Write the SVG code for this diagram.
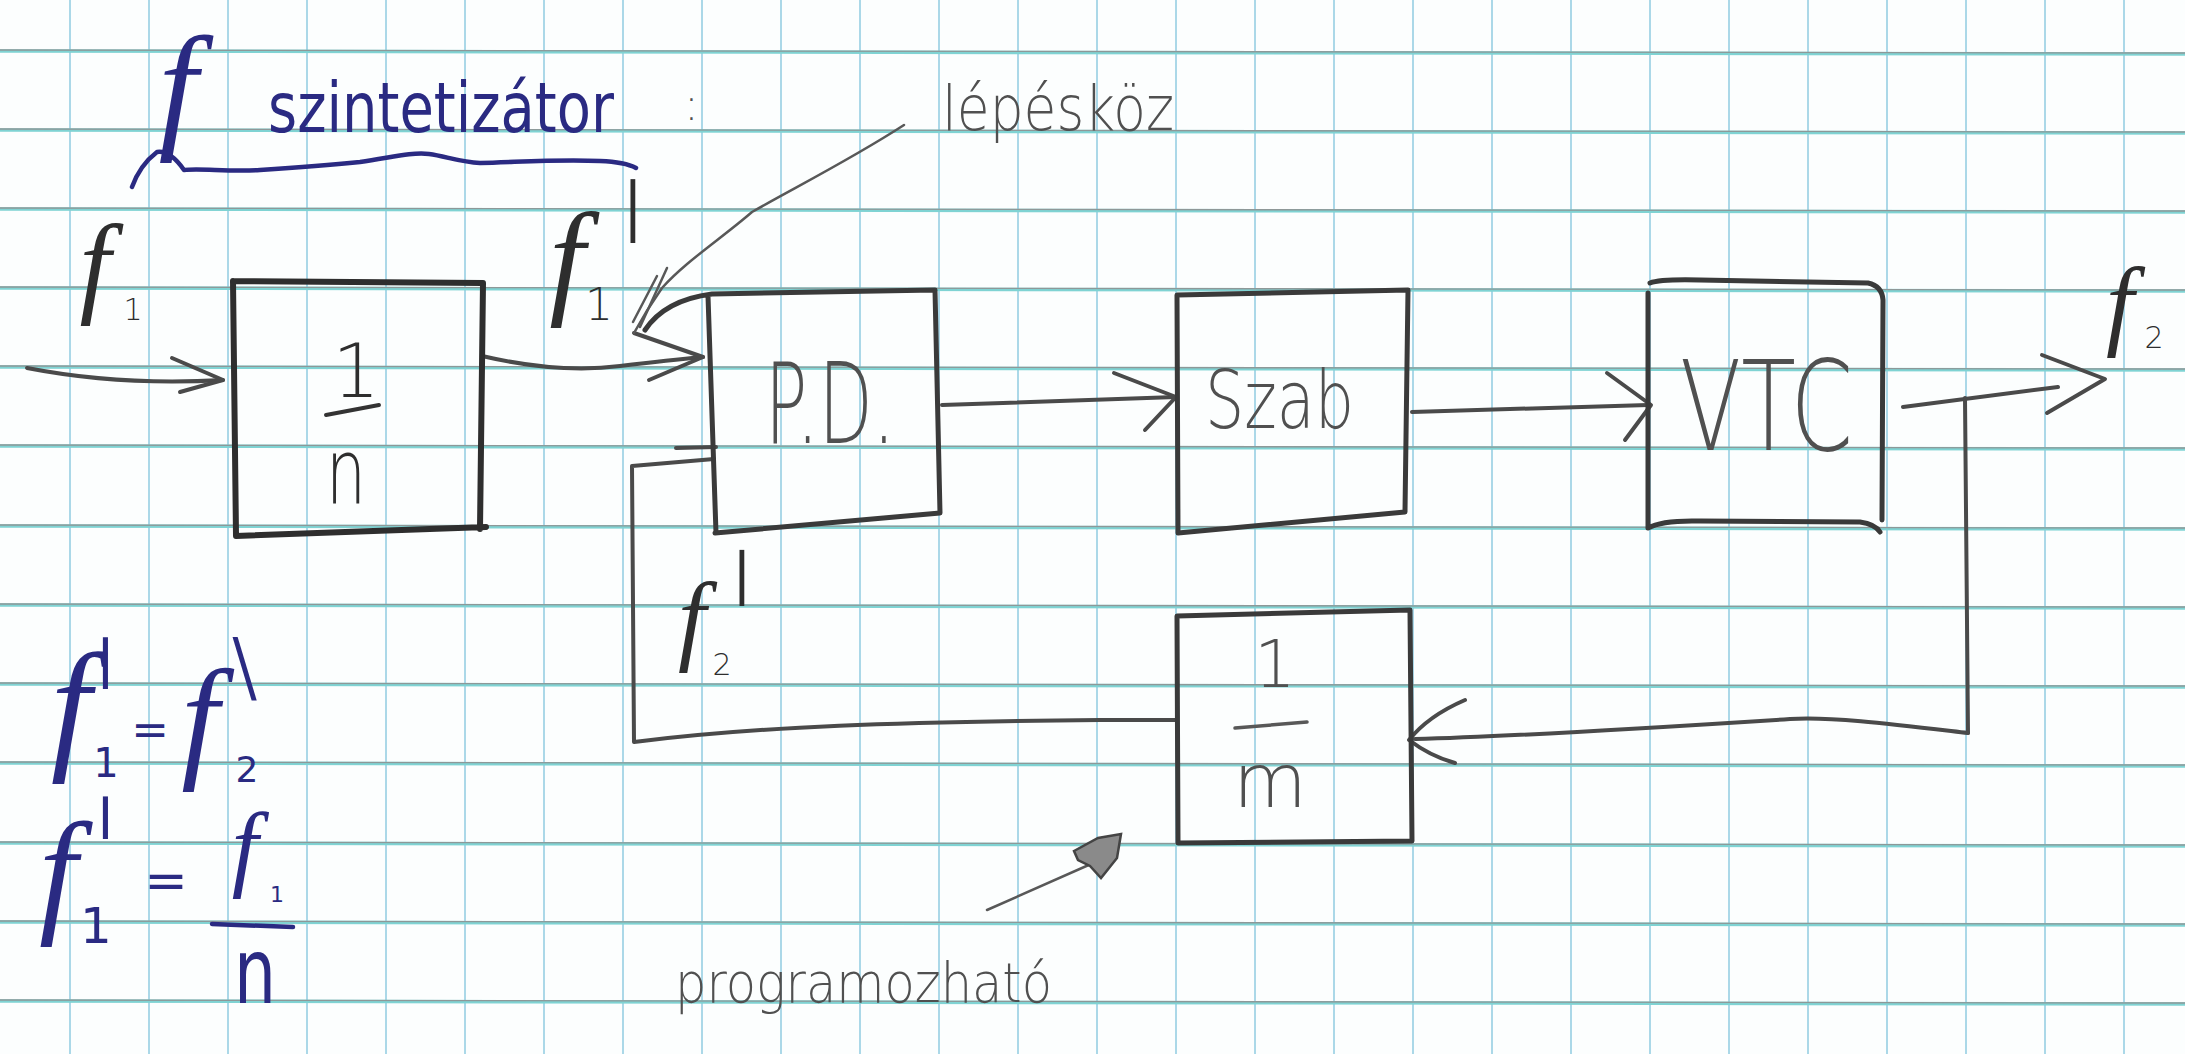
<svg xmlns="http://www.w3.org/2000/svg" width="2185" height="1054" viewBox="0 0 2185 1054">
<defs>
<style>
.gv{stroke:#abd8e8;stroke-width:2}
.gh{stroke:#7fd3d3;stroke-width:3.5}
.gh2{stroke:#8e9898;stroke-width:1.3}
.box{fill:none;stroke:#3a3a3a;stroke-width:5;stroke-linecap:round;stroke-linejoin:round}
.wire{fill:none;stroke:#4a4a4a;stroke-width:4;stroke-linecap:round;stroke-linejoin:round}
.thin{fill:none;stroke:#585858;stroke-width:2.5;stroke-linecap:round;stroke-linejoin:round}
.inkline{fill:none;stroke:#2a2a82;stroke-width:4.5;stroke-linecap:round;stroke-linejoin:round}
.hand{font-family:"DejaVu Sans","Liberation Sans",sans-serif;font-weight:200;fill:#505050}
.dark{font-family:"DejaVu Sans","Liberation Sans",sans-serif;font-weight:200;fill:#2e2e2e}
.ink{font-family:"DejaVu Sans","Liberation Sans",sans-serif;font-weight:normal;fill:#2a2a82}
.f{font-family:"Liberation Serif","DejaVu Serif",serif;font-style:italic;font-weight:normal}
.mid{text-anchor:middle}
</style>
</defs>
<rect width="2185" height="1054" fill="#fcfefe"/>
<g id="grid">
<path class="gv" d="M70,0V1054M149,0V1054M228,0V1054M307,0V1054M386,0V1054M465,0V1054M544,0V1054M623,0V1054M702,0V1054M781,0V1054M860,0V1054M939,0V1054M1018,0V1054M1097,0V1054M1176,0V1054M1255,0V1054M1334,0V1054M1413,0V1054M1492,0V1054M1571,0V1054M1650,0V1054M1729,0V1054M1808,0V1054M1887,0V1054M1966,0V1054M2045,0V1054M2124,0V1054"/>
<path class="gh" d="M0,51L2185,54M0,130L2185,133M0,209L2185,212M0,288L2185,291M0,367L2185,370M0,446L2185,449M0,526L2185,529M0,605L2185,608M0,684L2185,687M0,763L2185,766M0,843L2185,846M0,922L2185,925M0,1001L2185,1004"/>
<path class="gh2" d="M0,50L2185,53M0,129L2185,132M0,208L2185,211M0,287L2185,290M0,366L2185,369M0,445L2185,448M0,525L2185,528M0,604L2185,607M0,683L2185,686M0,762L2185,765M0,842L2185,845M0,921L2185,924M0,1000L2185,1003"/>
</g>
<g id="title">
<text class="ink f mid" x="178" y="133" font-size="140">f</text>
<text class="ink" x="268" y="132" font-size="70" textLength="346" lengthAdjust="spacingAndGlyphs">szintetizátor</text>
<path class="inkline" d="M132,187 Q140,165 157,152 Q170,150 184,170 C200,168 230,172 260,170 C290,168 330,165 360,162 C390,158 410,152 429,154 C445,156 460,162 480,163 C520,162 560,159 600,161 Q625,162 636,168"/>
<text class="hand" x="684" y="120" font-size="44">:</text>
</g>
<g id="connectors">
<path class="wire" d="M27,368 Q120,386 223,380"/>
<path class="wire" d="M172,358 L223,380 L180,392"/>
<path class="wire" d="M482,356 Q560,374 620,366 Q670,360 703,357"/>
<path class="wire" d="M634,333 L703,357 L649,380"/>
<path class="wire" d="M942,405 L1176,397"/>
<path class="wire" d="M1114,373 L1176,397 L1145,430"/>
<path class="wire" d="M1412,412 L1648,405"/>
<path class="wire" d="M1607,373 L1651,405 L1625,440"/>
<path class="wire" d="M1903,407 L2058,387"/>
<path class="wire" d="M2042,355 L2105,379 L2047,413"/>
<path class="wire" d="M1965,398 L1968,733"/>
<path class="wire" d="M1968,733 C1900,725 1830,716 1790,719 C1650,728 1500,737 1415,739"/>
<path class="wire" d="M1465,700 Q1428,716 1409,740 Q1430,756 1455,763"/>
<path class="wire" d="M1177,720 L1100,720 C900,722 760,726 634,742 L632,466 L714,459"/>
<path class="wire" d="M676,448 L716,447"/>
<path class="thin" d="M904,125 C850,160 790,190 752,212 C722,238 685,262 662,288 C648,308 640,322 634,333"/>
<path class="thin" d="M667,268 L640,327 M657,276 L633,322"/>
<path class="thin" d="M987,910 L1100,860"/>
<path d="M1074,851 L1098,838 L1121,834 L1117,858 L1101,878 L1090,866 L1078,860 Z" fill="#8a8a8a" stroke="#444" stroke-width="2.5"/>
</g>
<g id="node-div-n">
<path class="box" style="stroke-width:6;stroke:#2e2e2e" d="M233,281 L483,283 L480,529 M486,527 L236,536 L233,281"/>
<text class="dark mid" x="356" y="397" font-size="75">1</text>
<path class="wire" style="stroke:#333" d="M326,415 L379,405"/>
<text class="dark mid" x="346" y="503" font-size="90" textLength="40" lengthAdjust="spacingAndGlyphs">n</text>
</g>
<g id="node-pd">
<path class="box" d="M645,330 Q665,300 712,294 L935,290 L940,513 L715,533 M708,296 L716,533"/>
<text class="hand" x="765" y="443" font-size="112" textLength="130" lengthAdjust="spacingAndGlyphs">P.D.</text>
</g>
<g id="node-szab">
<path class="box" d="M1177,295 L1408,290 L1405,512 L1178,533 Z"/>
<text class="hand" x="1205" y="428" font-size="80" textLength="149" lengthAdjust="spacingAndGlyphs">Szab</text>
</g>
<g id="node-vtc">
<path class="box" d="M1650,283 Q1660,279 1700,280 L1868,283 Q1882,286 1883,300 L1882,520 M1648,528 Q1662,520 1700,521 L1860,522 Q1875,524 1880,532 M1648,293 L1648,528"/>
<text class="hand" x="1680" y="450" font-size="125" textLength="173" lengthAdjust="spacingAndGlyphs">VTC</text>
</g>
<g id="node-div-m">
<path class="box" d="M1177,616 L1410,610 L1412,841 L1178,843 Z"/>
<text class="hand mid" x="1275" y="687" font-size="65">1</text>
<path class="thin" style="stroke-width:3.5" d="M1235,728 L1307,722"/>
<text class="hand" x="1233" y="807" font-size="75" textLength="74" lengthAdjust="spacingAndGlyphs">m</text>
</g>
<g id="labels">
<text class="dark mid"><tspan class="f" x="95" y="302" font-size="112">f</tspan><tspan x="133" y="320" font-size="30">1</tspan></text>
<text class="dark mid"><tspan class="f" x="567" y="301" font-size="128">f</tspan><tspan x="599" y="320" font-size="44">1</tspan></text>
<text class="dark" transform="translate(619,351) scale(3,6.9)" font-size="34">'</text>
<text class="dark mid"><tspan class="f" x="692" y="652" font-size="100">f</tspan><tspan x="722" y="675" font-size="30">2</tspan></text>
<text class="dark" transform="translate(728,701) scale(3,6.1)" font-size="34">'</text>
<text class="dark mid"><tspan class="f" x="2120" y="337" font-size="100">f</tspan><tspan x="2154" y="348" font-size="30">2</tspan></text>
<text class="hand" x="942" y="130" font-size="62" textLength="232" lengthAdjust="spacingAndGlyphs">lépésköz</text>
<text class="hand" x="675" y="1002" font-size="56" textLength="377" lengthAdjust="spacingAndGlyphs">programozható</text>
</g>
<g id="equations">
<text class="ink mid"><tspan class="f" x="71" y="753" font-size="145">f</tspan><tspan x="106" y="777" font-size="40">1</tspan></text>
<text class="ink" transform="translate(97,777) scale(1.8,5.6)" font-size="34">'</text>
<text class="ink mid" x="150" y="745" font-size="45">=</text>
<text class="ink mid"><tspan class="f" x="200" y="763" font-size="135">f</tspan><tspan x="247" y="782" font-size="36">2</tspan></text>
<text class="ink" transform="translate(278,808) skewX(16.7) scale(1.8,6.9)" font-size="34">'</text>
<text class="ink mid"><tspan class="f" x="58" y="918" font-size="137">f</tspan><tspan x="96" y="943" font-size="50">1</tspan></text>
<text class="ink" transform="translate(97,911) scale(1.8,4.6)" font-size="34">'</text>
<text class="ink mid" x="166" y="898" font-size="52">=</text>
<text class="ink mid"><tspan class="f" x="245" y="879" font-size="95">f</tspan><tspan x="277" y="902" font-size="22">1</tspan></text>
<path class="inkline" d="M212,924 L293,927"/>
<text class="ink mid" x="255" y="1003" font-size="90" textLength="42" lengthAdjust="spacingAndGlyphs">n</text>
</g>
</svg>
